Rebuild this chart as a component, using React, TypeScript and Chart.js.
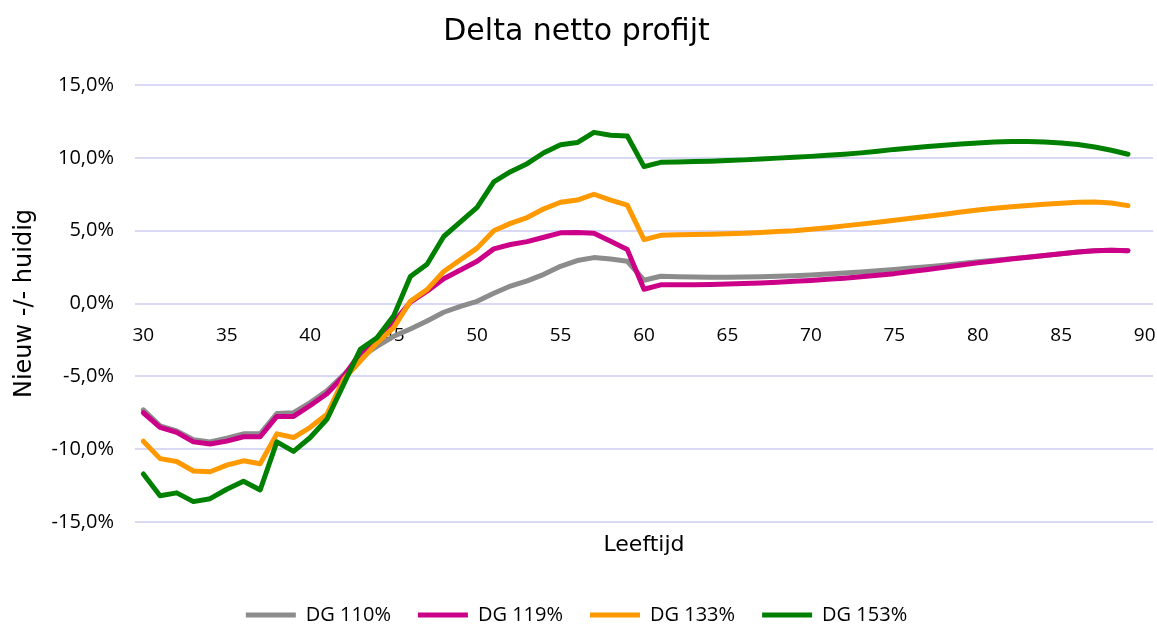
import React, { useEffect, useRef } from "react";
import { Chart, registerables } from "chart.js";

Chart.register(...registerables);

const ages: number[] = [
  30, 31, 32, 33, 34, 35, 36, 37, 38, 39, 40, 41, 42, 43, 44, 45, 46, 47, 48, 49,
  50, 51, 52, 53, 54, 55, 56, 57, 58, 59, 60, 61, 62, 63, 64, 65, 66, 67, 68, 69,
  70, 71, 72, 73, 74, 75, 76, 77, 78, 79, 80, 81, 82, 83, 84, 85, 86, 87, 88, 89,
];

const dg110: number[] = [
  -7.3, -8.4, -8.75, -9.35, -9.5, -9.25, -8.95, -8.95, -7.55, -7.5,
  -6.8, -6.0, -4.9, -3.7, -2.95, -2.25, -1.75, -1.2, -0.6, -0.2,
  0.15, 0.7, 1.2, 1.55, 2.0, 2.55, 2.95, 3.15, 3.05, 2.9,
  1.6, 1.87, 1.84, 1.82, 1.81, 1.81, 1.82, 1.84, 1.87, 1.91,
  1.96, 2.02, 2.09, 2.17, 2.25, 2.34, 2.43, 2.53, 2.63, 2.74,
  2.86, 2.97, 3.08, 3.18, 3.3, 3.42, 3.53, 3.62, 3.66, 3.62,
];

const dg119: number[] = [
  -7.5, -8.5, -8.85, -9.5, -9.65, -9.45, -9.15, -9.15, -7.75, -7.75,
  -7.0, -6.2, -5.0, -3.4, -2.6, -1.3, 0.1, 0.85, 1.7, 2.3,
  2.9, 3.75, 4.05, 4.25, 4.55, 4.85, 4.87, 4.83, 4.27, 3.7,
  0.98, 1.28, 1.28, 1.29, 1.31, 1.34, 1.37, 1.41, 1.46, 1.52,
  1.58, 1.66, 1.74, 1.84, 1.94, 2.05, 2.19, 2.34, 2.49, 2.64,
  2.79, 2.92, 3.05, 3.18, 3.3, 3.42, 3.53, 3.62, 3.66, 3.62,
];

const dg133: number[] = [
  -9.45, -10.65, -10.85, -11.5, -11.55, -11.1, -10.8, -11.0, -8.95, -9.2,
  -8.5, -7.6, -5.2, -3.95, -2.7, -1.65, 0.15, 0.95, 2.2, 3.0,
  3.8, 5.0, 5.5, 5.9, 6.5, 6.95, 7.1, 7.5, 7.1, 6.75,
  4.38, 4.68, 4.72, 4.74, 4.76, 4.79, 4.83, 4.88, 4.94, 5.0,
  5.09, 5.2, 5.33, 5.45, 5.58, 5.72, 5.85, 5.99, 6.13, 6.28,
  6.42, 6.54, 6.64, 6.73, 6.82, 6.88, 6.95, 6.97, 6.9, 6.72,
];

const dg153: number[] = [
  -11.7, -13.2, -13.0, -13.6, -13.4, -12.75, -12.2, -12.8, -9.5, -10.15,
  -9.2, -7.95, -5.55, -3.15, -2.35, -0.85, 1.85, 2.7, 4.6, 5.6,
  6.6, 8.35, 9.05, 9.6, 10.35, 10.9, 11.05, 11.75, 11.55, 11.5,
  9.4, 9.69, 9.71, 9.74, 9.77, 9.81, 9.86, 9.92, 9.98, 10.04,
  10.1, 10.17, 10.25, 10.34, 10.45, 10.58, 10.68, 10.78, 10.87, 10.95,
  11.02, 11.08, 11.12, 11.12, 11.09, 11.02, 10.92, 10.74, 10.52, 10.25,
];

const seriesNames: string[] = ["DG 110%", "DG 119%", "DG 133%", "DG 153%"];
const seriesColors: string[] = ["#8c8c8c", "#cc0088", "#ff9900", "#008000"];
const xTickValues: number[] = [30, 35, 40, 45, 50, 55, 60, 65, 70, 75, 80, 85, 90];
const yTickValues: number[] = [-15, -10, -5, 0, 5, 10, 15];

const FONT_WIDE = "'DejaVu Sans', sans-serif";
const FONT_TICK = "'Open Sans', 'Noto Sans', sans-serif";

export default function App() {
  const canvasRef = useRef<HTMLCanvasElement | null>(null);

  useEffect(() => {
    document.body.style.margin = "0";
    const canvas = canvasRef.current;
    if (!canvas) return;
    const allSeries = [dg110, dg119, dg133, dg153];
    const datasets = allSeries.map((vals, i) => ({
      label: seriesNames[i],
      data: ages.map((a, j) => ({ x: a, y: vals[j] })),
      borderColor: seriesColors[i],
      backgroundColor: seriesColors[i],
      borderWidth: 5,
      pointRadius: 0,
      pointHoverRadius: 0,
      tension: 0,
      borderCapStyle: "round" as const,
      borderJoinStyle: "round" as const,
      order: 4 - i,
    }));

    const chart = new Chart(canvas, {
      type: "line",
      data: { datasets },
      options: {
        animation: false,
        responsive: true,
        maintainAspectRatio: false,
        layout: { padding: { left: 0, right: 4, top: 0, bottom: -11 } },
        plugins: {
          title: {
            display: true,
            text: "Delta netto profijt",
            color: "#000",
            font: { family: FONT_WIDE, size: 30, weight: "normal" },
            padding: { top: 14, bottom: 35 },
          },
          legend: {
            display: true,
            position: "bottom",
            labels: {
              usePointStyle: true,
              pointStyle: "line",
              pointStyleWidth: 50,
              color: "#000",
              font: { family: FONT_TICK, size: 20 },
              padding: 27,
              sort: (a: any, b: any) => a.datasetIndex - b.datasetIndex,
            },
          },
          tooltip: { enabled: false },
        },
        scales: {
          x: {
            type: "linear",
            position: { y: 0 } as any,
            min: 29.5,
            max: 90.5,
            afterBuildTicks: (scale: any) => {
              scale.ticks = xTickValues.map((v) => ({ value: v }));
            },
            afterFit: (scale: any) => {
              scale.paddingLeft = 0;
              scale.paddingRight = 0;
            },
            grid: { display: false, drawTicks: false },
            border: { display: false },
            ticks: {
              color: "#000",
              font: { family: FONT_TICK, size: 19 },
              padding: 21,
              maxRotation: 0,
              callback: (v: any) => String(v),
            },
          },
          x2: {
            type: "linear",
            position: "bottom",
            min: 29.5,
            max: 90.5,
            grid: { display: false, drawTicks: false },
            border: { display: false },
            ticks: { display: false },
            title: {
              display: true,
              text: "Leeftijd",
              color: "#000",
              font: { family: FONT_WIDE, size: 22 },
              padding: { top: 10, bottom: 19.6 },
            },
          },
          y: {
            type: "linear",
            min: -15,
            max: 15,
            afterBuildTicks: (scale: any) => {
              scale.ticks = yTickValues.map((v) => ({ value: v }));
            },
            afterFit: (scale: any) => {
              scale.width = 135;
            },
            grid: { color: "rgb(217,217,245)", lineWidth: 2, drawTicks: false },
            border: { display: false },
            ticks: {
              color: "#000",
              font: { family: FONT_TICK, size: 20 },
              padding: 21,
              callback: (v: any) => Number(v).toFixed(1).replace(".", ",") + "%",
            },
            title: {
              display: true,
              text: "Nieuw -/- huidig",
              color: "#000",
              font: { family: FONT_WIDE, size: 24 },
              padding: { top: 10, bottom: 6 },
            },
          },
        },
      },
    });
    return () => chart.destroy();
  }, []);

  return (
    <div style={{ position: "relative", width: "1157px", height: "624px" }}>
      <canvas ref={canvasRef} />
    </div>
  );
}
